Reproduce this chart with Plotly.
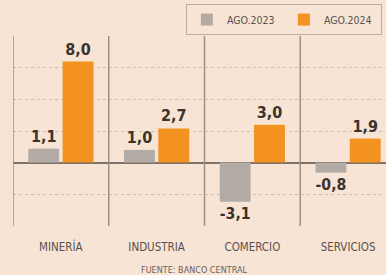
import plotly.graph_objects as go

categories = ["MINERÍA", "INDUSTRIA", "COMERCIO", "SERVICIOS"]
ago2023 = [1.1, 1.0, -3.1, -0.8]
ago2024 = [8.0, 2.7, 3.0, 1.9]
series_names = ["AGO.2023", "AGO.2024"]
y_ticks = [-5, -2.5, 0, 2.5, 5, 7.5, 10]

BG = "#f7e4d5"
GRAY = "#b3aca6"
ORANGE = "#f3921f"


def fmt(v):
    return f"{v:.1f}".replace(".", ",")


fig = go.Figure()
for name, vals, col in [(series_names[0], ago2023, GRAY), (series_names[1], ago2024, ORANGE)]:
    fig.add_trace(go.Bar(
        x=categories, y=vals, name=name, marker=dict(color=col, line=dict(width=0)),
        text=[f"<b>{fmt(v)}</b>" for v in vals], textposition="outside", cliponaxis=False,
        textfont=dict(family="DejaVu Sans Condensed", size=16, color="#3b322d"),
        hoverinfo="skip",
    ))

# category separators
for i in range(len(categories)):
    fig.add_shape(type="line", xref="x", yref="paper", x0=i - 0.5, x1=i - 0.5, y0=0, y1=1,
                  line=dict(color="#9c8f86", width=1.5), layer="above")

fig.add_annotation(text="% VAR. 12 MESES", xref="paper", yref="paper", x=0.005, y=1.165,
                   xanchor="left", yanchor="bottom", showarrow=False,
                   font=dict(family="DejaVu Sans Condensed", size=12, color="#555"))
fig.add_annotation(text="FUENTE: BANCO CENTRAL", xref="paper", yref="paper", x=0.485, y=-0.195,
                   xanchor="center", yanchor="top", showarrow=False,
                   font=dict(family="DejaVu Sans Condensed", size=9, color="#6a605a"))

fig.update_layout(
    width=386, height=275,
    margin=dict(l=13, r=0, t=36, b=49, autoexpand=False),
    paper_bgcolor=BG, plot_bgcolor=BG,
    barmode="group", bargap=0.283, bargroupgap=0.1,
    font=dict(family="DejaVu Sans Condensed", color="#555"),
    legend=dict(orientation="h", x=0.989, xanchor="right", y=1.168, yanchor="top",
                bordercolor="#b8aea6", borderwidth=1, bgcolor="rgba(0,0,0,0)",
                font=dict(family="DejaVu Sans Condensed", size=10.5, color="#5a524c"),
                itemwidth=30, entrywidth=52, traceorder="normal"),
    xaxis=dict(range=[-0.5, 3.396], showgrid=False, zeroline=False, showline=False,
               tickfont=dict(family="DejaVu Sans Condensed", size=11.5, color="#5a524c"),
               ticks="", ticklabelstandoff=12, automargin=False),
    yaxis=dict(range=[-5.02, 10.02], tickvals=y_ticks, showticklabels=False, showgrid=True,
               gridcolor="#cdbcae", griddash="dot", gridwidth=1, automargin=False,
               zeroline=True, zerolinecolor="#7d716a", zerolinewidth=2, showline=False),
)

fig.write_html("out.html", config={"displayModeBar": False},
               post_script="document.body.style.margin='0';document.body.style.overflow='hidden';")
